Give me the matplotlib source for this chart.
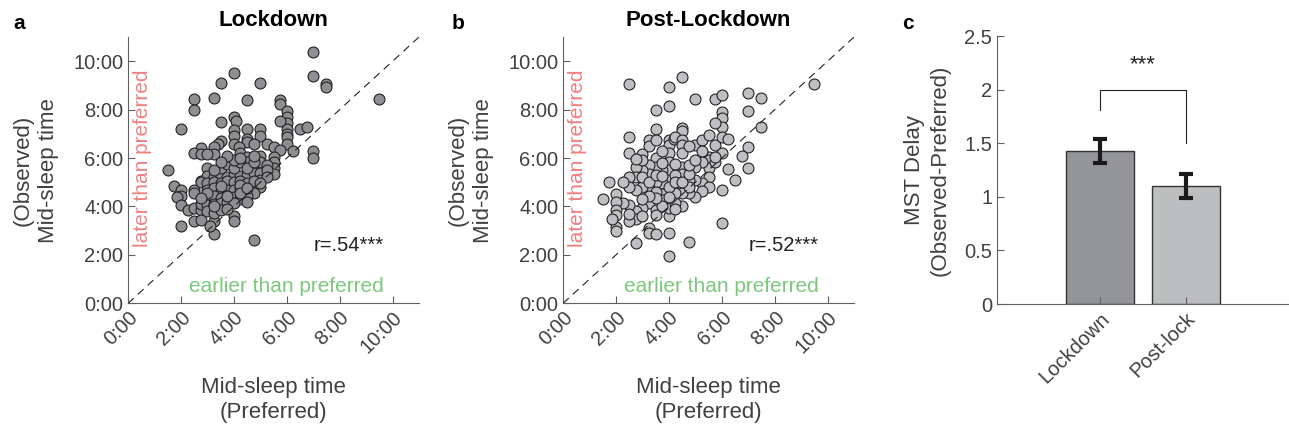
import matplotlib
matplotlib.use("Agg")
import matplotlib.pyplot as plt
import numpy as np

plt.rcParams['font.family'] = ['Liberation Sans', 'DejaVu Sans']

# Lockdown: preferred vs observed mid-sleep time (hours after midnight)
pref_lock = [7.0, 7.0, 7.5, 7.5, 9.5, 4.0, 3.5, 5.0, 2.5, 2.5, 3.25, 4.5, 5.75, 5.75, 2.0, 3.5, 4.0, 4.1,
             6.0, 6.0, 6.0, 6.0, 6.0, 6.0, 6.0, 6.5, 6.75, 5.75,
             4.5, 4.5, 4.5, 5.0, 5.0, 4.0, 4.0, 3.5, 3.4, 4.0, 4.2, 4.75, 5.25, 5.5, 5.75, 6.25, 7.0, 7.0,
             2.75, 2.5, 2.75, 3.25, 3.25, 3.0, 3.0, 3.75, 4.25, 4.5, 4.5, 5.0, 5.0, 5.5, 5.5, 5.5, 5.5, 5.25,
             1.5, 1.75, 2.0, 2.0, 1.85, 2.0, 2.25, 2.5, 2.75, 2.0, 2.5, 2.75, 3.25, 3.25, 3.1, 4.0, 4.0, 4.75,
             2.5, 2.5, 2.75,
             3.0, 3.25, 3.5, 3.75, 4.0, 4.25, 4.5, 4.75, 5.0, 5.25,
             2.75, 3.0, 3.25, 3.5, 3.75, 4.0, 4.25, 4.5, 5.0, 5.25,
             3.0, 3.25, 3.5, 3.75, 4.0, 4.25, 4.5, 4.75, 5.0,
             3.0, 3.25, 3.5, 3.75, 4.0, 4.25, 4.75, 4.5,
             2.75, 3.0, 3.25, 3.5, 3.75, 4.0, 4.5,
             3.0, 3.25, 3.5, 3.75,
             3.5, 3.75, 4.0, 4.25, 4.5, 3.25, 4.0, 4.25, 3.75, 3.5, 4.75, 4.75,
             3.0, 3.5, 4.25, 4.75, 3.75, 4.25, 2.75, 3.25, 5.0, 4.5]
obs_lock = [10.4, 9.4, 9.05, 8.95, 8.45, 9.5, 9.1, 9.1, 8.45, 8.0, 8.5, 8.4, 8.4, 8.25, 7.2, 7.5, 7.7, 7.55,
            7.95, 7.7, 7.45, 7.2, 7.0, 6.85, 6.6, 7.2, 7.3, 7.55,
            7.2, 6.8, 6.65, 7.2, 6.9, 7.15, 6.9, 6.7, 6.6, 6.6, 6.45, 6.6, 6.6, 6.45, 6.35, 6.3, 6.3, 6.0,
            6.4, 6.2, 6.15, 6.45, 6.15, 6.15, 5.6, 5.85, 6.2, 6.05, 5.85, 6.1, 5.85, 6.05, 5.85, 5.6, 5.35, 5.7,
            5.5, 4.85, 4.7, 4.45, 4.4, 4.05, 3.85, 3.95, 3.85, 3.2, 3.4, 3.45, 2.85, 3.4, 3.2, 3.6, 3.4, 2.6,
            4.7, 4.55, 5.05,
            5.25, 5.2, 5.25, 5.2, 5.3, 5.25, 5.3, 5.4, 5.4, 5.5,
            5.0, 4.95, 5.0, 4.95, 5.05, 5.0, 5.05, 4.95, 5.1, 5.2,
            4.7, 4.75, 4.65, 4.7, 4.7, 4.75, 4.6, 4.7, 4.8,
            4.4, 4.45, 4.35, 4.45, 4.4, 4.3, 4.55, 4.45,
            4.1, 4.05, 4.1, 4.15, 4.2, 4.15, 4.2,
            3.8, 3.75, 3.85, 3.9,
            5.6, 5.75, 5.6, 5.85, 5.6, 5.5, 5.9, 6.0, 6.1, 5.85, 5.85, 6.1,
            4.55, 4.85, 4.9, 5.05, 4.45, 4.55, 4.35, 4.0, 4.95, 4.75]

# Post-lockdown
pref_post = [9.5, 2.5, 4.5, 4.0, 4.0, 3.5, 5.0, 5.75, 6.0, 7.0, 7.5, 7.0, 7.5, 6.0, 6.0, 6.0, 5.75,
             4.5, 4.5, 3.5, 2.5, 2.5, 3.25, 3.25, 3.5, 4.0, 4.0, 4.2, 4.25, 4.5, 4.5, 5.0, 5.25, 5.5,
             5.75, 6.0, 6.25, 7.0, 6.75, 7.0, 6.25, 6.5, 6.0, 6.0, 6.0, 5.5, 5.5, 5.5, 5.5, 5.25, 5.25,
             5.0, 5.0, 5.5, 5.25, 5.0, 4.75, 4.5, 4.5, 4.5, 4.5, 4.5, 4.75, 4.0, 4.0, 4.0, 4.0, 4.0,
             4.0, 4.0, 4.0, 3.75, 3.75, 3.5, 3.5, 3.5, 3.25, 3.25, 3.25, 3.25, 3.0, 3.0, 3.0, 3.0,
             2.75, 2.75, 2.75, 2.75, 2.75, 2.5, 2.5, 2.5, 2.5, 1.75, 1.5, 2.0, 2.25, 2.0, 2.0, 2.0,
             2.0, 2.0, 1.85, 2.75, 3.25, 3.25, 3.5, 3.5, 3.5, 3.75, 3.75, 3.75, 4.25, 4.25, 4.75, 4.75,
             3.0, 3.25, 3.5, 3.5, 3.75, 3.75, 4.0, 4.25, 4.25, 4.5, 4.75, 4.75, 5.0, 4.25, 3.5, 3.25,
             3.0, 3.0, 2.5, 4.0, 4.25, 5.25, 5.75, 5.75, 4.5, 4.75, 3.75, 3.0, 2.75, 2.25]
obs_post = [9.05, 9.05, 9.35, 8.95, 8.15, 8.0, 8.45, 8.45, 8.6, 8.7, 8.5, 7.95, 7.3, 7.9, 7.65, 7.3, 7.45,
            7.25, 7.1, 7.2, 6.85, 6.2, 6.75, 6.5, 6.75, 6.75, 6.55, 6.8, 6.85, 6.75, 6.55, 6.55, 6.75, 6.95,
            6.55, 6.85, 6.8, 6.45, 6.1, 5.6, 5.55, 5.1, 4.7, 3.3, 6.2, 6.05, 5.9, 5.6, 5.2, 5.85, 4.95,
            5.65, 5.1, 4.8, 4.65, 4.4, 4.55, 5.65, 5.35, 4.8, 4.55, 4.0, 2.55, 2.9, 1.95, 3.6, 3.95, 6.2,
            5.85, 5.5, 5.1, 5.5, 4.95, 6.0, 5.65, 5.0, 5.7, 5.35, 4.75, 4.15, 6.15, 5.5, 4.8, 3.95,
            5.65, 5.2, 4.7, 3.8, 3.5, 5.2, 4.8, 4.05, 3.4, 5.0, 4.3, 4.5, 4.15, 4.2, 3.85, 3.65,
            3.15, 3.0, 3.5, 2.5, 3.1, 2.9, 2.85, 3.85, 3.65, 4.5, 4.25, 4.0, 4.55, 4.15, 5.1, 4.8,
            5.2, 5.0, 5.3, 4.6, 5.25, 5.8, 4.8, 5.3, 5.0, 5.0, 5.35, 5.7, 5.9, 5.75, 4.35, 4.45,
            4.3, 3.6, 3.7, 4.4, 3.9, 6.3, 5.85, 6.05, 6.2, 6.5, 6.3, 5.9, 5.95, 5.0]

# MST delay bar chart
groups = ['Lockdown', 'Post-lock']
delay_mean = [1.43, 1.10]
delay_sem = [0.11, 0.11]

hour_ticks = [0, 2, 4, 6, 8, 10]
hour_labels = ['0:00', '2:00', '4:00', '6:00', '8:00', '10:00']

text_col = '#404040'
spine_col = '#606060'

fig = plt.figure(figsize=(12.89, 4.3), dpi=100)


def scatter_panel(ax, x, y, face, title, rtext):
    ax.scatter(x, y, s=62, facecolor=face, edgecolor='#222222', linewidth=0.8, zorder=2)
    ax.plot([0, 11], [0, 11], ls=(0, (7, 5)), color='#222222', lw=0.8, zorder=3)
    ax.set_xlim(0, 11)
    ax.set_ylim(0, 11)
    ax.set_xticks(hour_ticks)
    ax.set_yticks(hour_ticks)
    ax.set_xticklabels(hour_labels, rotation=45, ha='right', rotation_mode='anchor')
    ax.set_yticklabels(hour_labels)
    ax.tick_params(direction='in', length=5, labelsize=14.5, colors=spine_col, labelcolor=text_col)
    for s in ['top', 'right']:
        ax.spines[s].set_visible(False)
    for s in ['left', 'bottom']:
        ax.spines[s].set_color(spine_col)
    ax.set_xlabel('Mid-sleep time\n(Preferred)', fontsize=16, color=text_col, labelpad=14,
                  linespacing=1.3)
    ax.set_ylabel('(Observed)\nMid-sleep time', fontsize=16, color=text_col, labelpad=10,
                  linespacing=1.3)
    ax.set_title(title, fontsize=16, fontweight='bold', pad=8)
    ax.text(0.55, 6.0, 'later than preferred', rotation=90, ha='center', va='center',
            fontsize=15, color='#f08080')
    ax.text(6.0, 0.7, 'earlier than preferred', ha='center', va='center',
            fontsize=15, color='#7cc87c')
    ax.text(7.0, 2.4, rtext, ha='left', va='center', fontsize=14.5, color='#222222')


ax1 = fig.add_axes([0.0993, 0.2945, 0.2258, 0.6195])
scatter_panel(ax1, pref_lock, obs_lock, '#8e8f92', 'Lockdown', 'r=.54***')

ax2 = fig.add_axes([0.4368, 0.2945, 0.2258, 0.6195])
scatter_panel(ax2, pref_post, obs_post, '#bebfc2', 'Post-Lockdown', 'r=.52***')

# bar panel
ax3 = fig.add_axes([0.7735, 0.2930, 0.2265, 0.6230])
xpos = np.arange(1, len(groups) + 1)
ax3.bar(xpos, delay_mean, width=0.8, color=['#939598', '#bcbec0'], edgecolor='#333333', linewidth=1.0)
ax3.errorbar(xpos, delay_mean, yerr=delay_sem, fmt='none', ecolor='#1a1a1a',
             elinewidth=3, capsize=5, capthick=3)
ax3.plot([1, 1, 2, 2], [1.81, 2.0, 2.0, 1.5], color='#222222', lw=0.8)
ax3.text(1.5, 2.23, '***', ha='center', va='center', fontsize=16, color='#222222')
ax3.set_xlim(-0.2, 3.2)
ax3.set_ylim(0, 2.5)
ax3.set_xticks(xpos)
ax3.set_xticklabels(groups, rotation=45, ha='right', rotation_mode='anchor')
ax3.set_yticks([0, 0.5, 1, 1.5, 2, 2.5])
ax3.set_yticklabels(['0', '0.5', '1', '1.5', '2', '2.5'])
ax3.tick_params(direction='in', length=5, labelsize=14.5, colors=spine_col, labelcolor=text_col)
for s in ['top', 'right']:
    ax3.spines[s].set_visible(False)
for s in ['left', 'bottom']:
    ax3.spines[s].set_color(spine_col)
ax3.set_ylabel('MST Delay\n(Observed-Preferred)', fontsize=16, color=text_col, labelpad=10,
               linespacing=1.3)

# panel letters
fig.text(0.010, 0.945, 'a', fontsize=15, fontweight='bold', va='center')
fig.text(0.350, 0.945, 'b', fontsize=15, fontweight='bold', va='center')
fig.text(0.700, 0.945, 'c', fontsize=15, fontweight='bold', va='center')

fig.savefig('out.png', dpi=100)
